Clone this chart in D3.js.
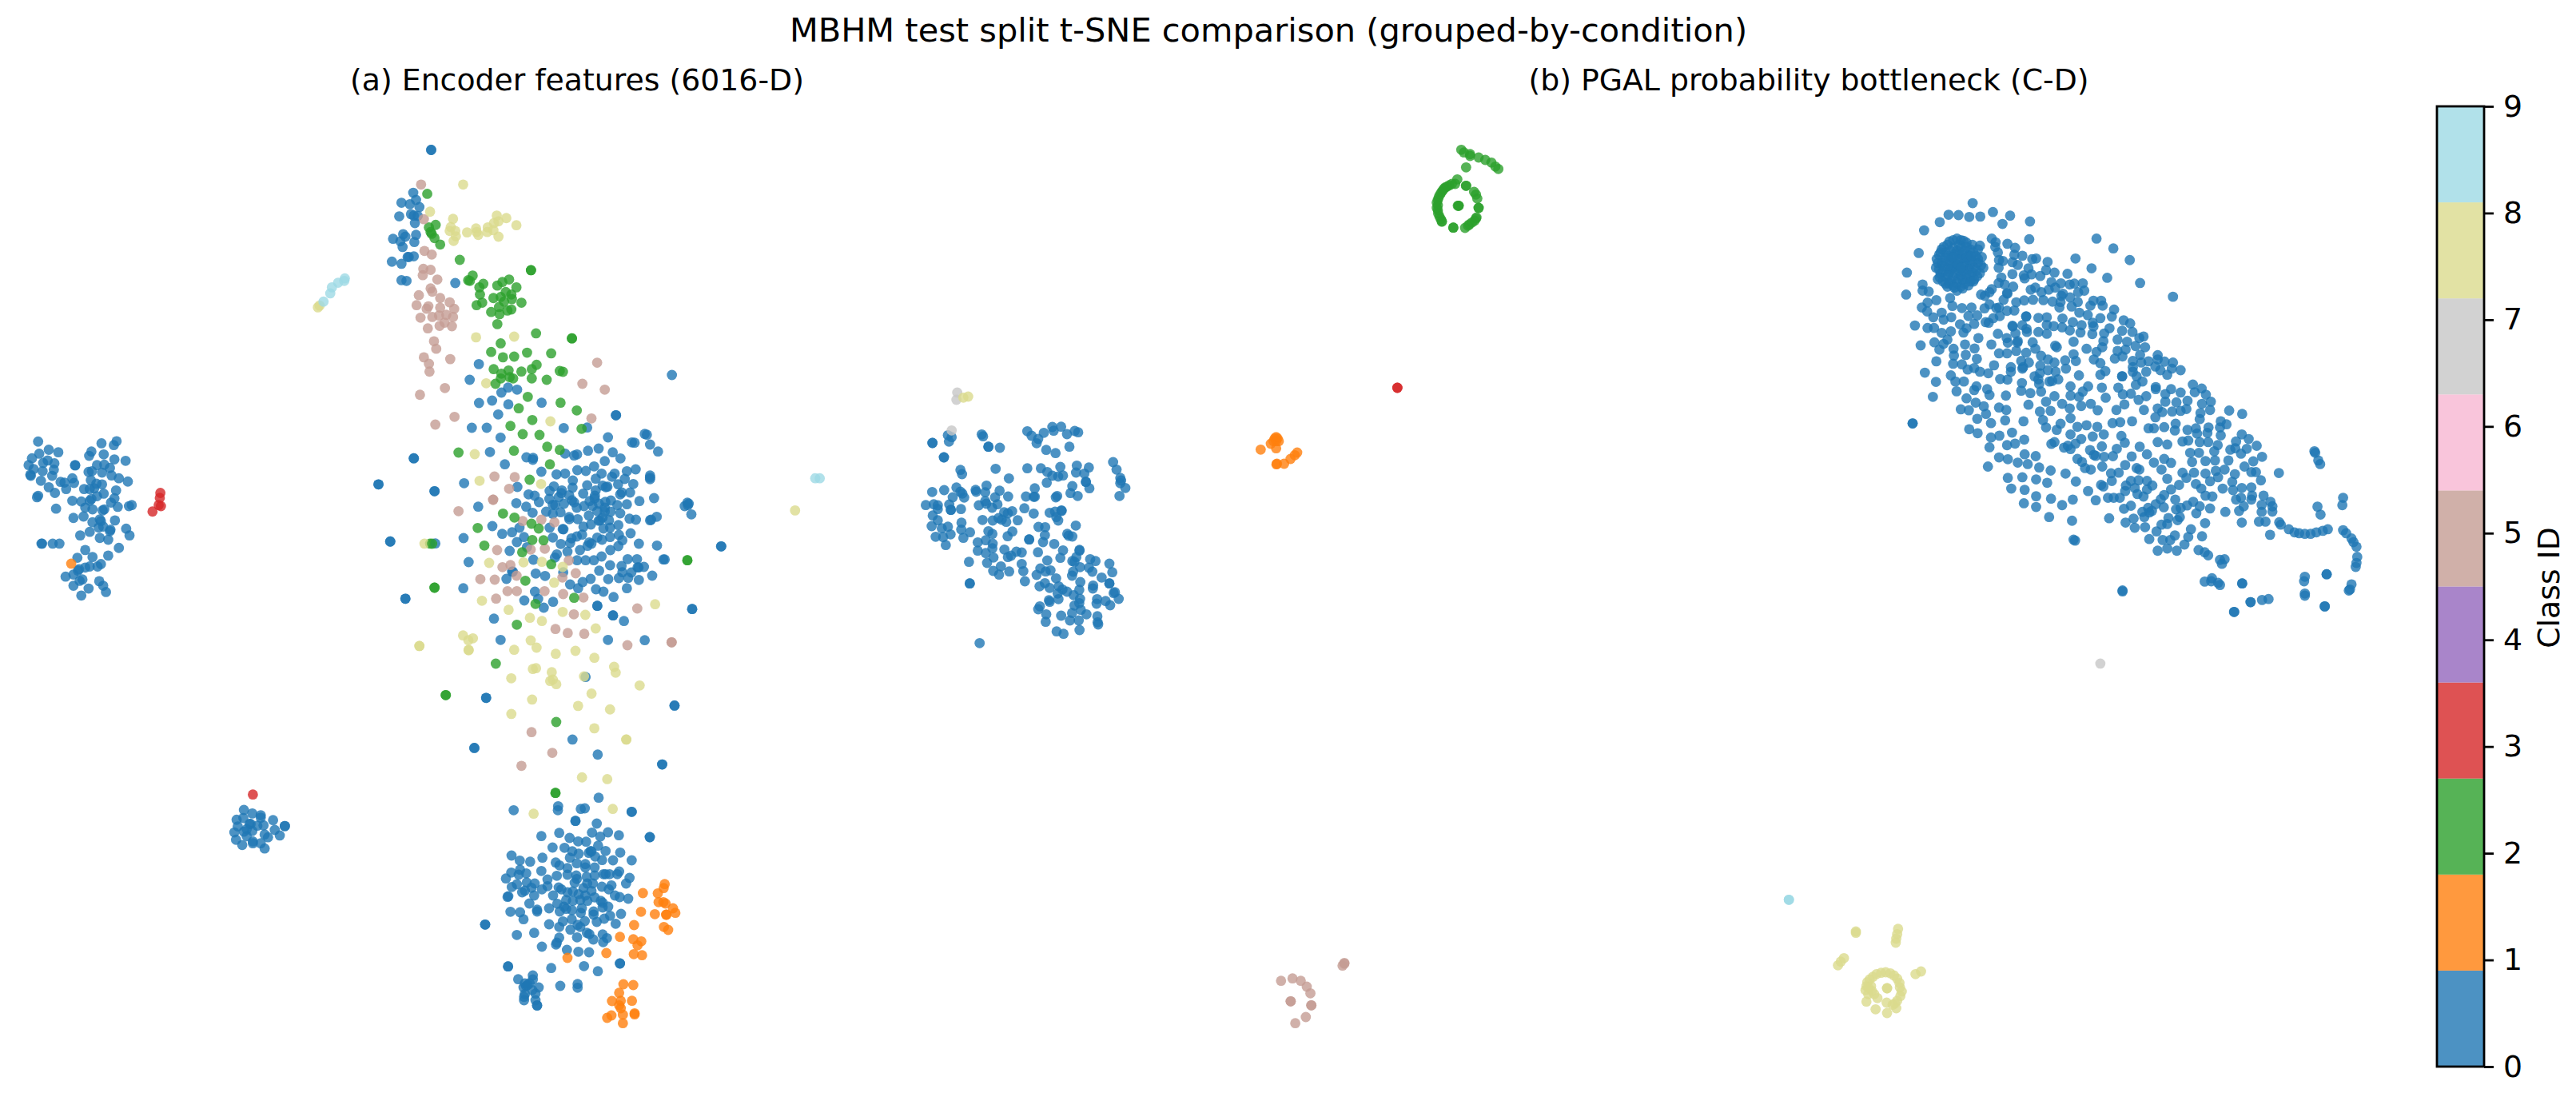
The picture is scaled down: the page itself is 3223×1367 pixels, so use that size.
<!DOCTYPE html>
<head>
  <meta charset="utf-8">
  <style>
    body { margin: 0; background: #fff; }
    svg text { font-family: "DejaVu Sans"; fill: #000; }
  </style>
  <script src="https://cdn.jsdelivr.net/npm/d3@7/dist/d3.min.js"></script>
</head>
<body>
<div id=chart></div>

<script>
const width = 3223, height = 1367

const title = 'MBHM test split t-SNE comparison (grouped-by-condition)'
const panel_titles = ['(a) Encoder features (6016-D)', '(b) PGAL probability bottleneck (C-D)']
const class_ticks = [0, 1, 2, 3, 4, 5, 6, 7, 8, 9]
const class_colors = ['#1f77b4', '#ff7f0e', '#2ca02c', '#d62728', '#9467bd', '#c49c94', '#f7b6d2', '#c7c7c7', '#dbdb8d', '#9edae5']

// encoder embedding, upper left part
const enc_upper_0 = [[68,1237],[87,1260],[104,1267],[70,1271],[57,1284],[85,1290],[51,1303],[77,1297],[97,1298],[60,1314],[76,1320],[96,1316],[54,1330],[55,1333],[93,1333],[73,1347],[87,1365],[108,1350],[115,1352],[132,1353],[118,1370],[98,1381],[68,1389],[66,1393],[134,1303],[134,1304],[129,1340],[159,1277],[163,1265],[181,1242],[203,1247],[208,1236],[185,1273],[204,1287],[224,1291],[173,1303],[186,1302],[196,1311],[158,1322],[164,1320],[182,1324],[199,1332],[212,1340],[228,1349],[162,1345],[150,1370],[160,1370],[168,1368],[172,1355],[182,1357],[207,1374],[185,1383],[173,1390],[204,1396],[160,1403],[129,1403],[145,1405],[163,1398],[198,1408],[100,1425],[152,1422],[165,1427],[186,1427],[210,1420],[230,1418],[235,1415],[131,1451],[149,1447],[165,1463],[180,1460],[205,1458],[176,1478],[197,1484],[225,1481],[231,1500],[143,1500],[160,1490],[178,1507],[193,1512],[74,1523],[75,1523],[94,1523],[106,1523],[196,1488],[184,1475],[178,1455],[183,1430],
  [769,420],[769,420],[737,540],[716,568],[731,572],[742,560],[748,580],[733,600],[712,606],[738,604],[745,605],[740,625],[701,669],[719,656],[723,663],[714,676],[742,658],[739,678],[718,692],[738,718],[727,720],[699,733],[716,739],[716,785],[725,787],[812,793],[729,720],[854,1020],[738,1284],[738,1284],[675,1357],[675,1357],[696,1517],[696,1517]]
const enc_upper_2 = [[762,543],[765,637],[777,630],[768,650],[770,655],[775,667],[785,685],[820,728],[843,772],[835,785],[838,787],[862,795],[855,805],[887,800],[896,790],[908,783],[921,805],[947,757],[947,757],[902,818],[856,825],[880,835],[893,832],[912,825],[899,845],[913,838],[930,848],[850,855],[860,848],[876,874],[891,880],[890,860],[905,870],[912,867],[887,908],[956,934],[1020,948],[1020,948],[893,962],[876,986],[940,988],[983,990],[897,1001],[917,999],[957,1022],[767,1523]]
const enc_upper_3 = [[286,1381],[285,1395],[283,1415],[287,1418],[272,1433]]
const enc_upper_5 = [[751,517],[756,614],[757,703],[770,713],[755,753],[768,756],[754,771],[780,783],[768,808],[771,817],[747,827],[785,835],[802,847],[743,855],[764,858],[761,865],[785,862],[810,865],[750,890],[771,888],[783,884],[796,882],[808,888],[763,920],[784,913],[793,904],[806,914],[774,956],[778,977],[756,1001],[803,1006],[765,1019],[766,1041],[749,1106],[1065,1016]]
const enc_upper_8 = [[826,517],[767,593],[808,613],[886,604],[903,611],[921,631],[804,636],[802,647],[812,647],[833,651],[849,640],[850,650],[853,658],[870,637],[869,650],[881,625],[889,620],[880,645],[813,662],[809,675],[889,663],[849,945],[917,943],[570,856],[567,861],[1418,1430],[757,1523]]
const enc_upper_9 = [[615,780],[603,792],[592,805],[589,822],[614,787],[577,845],[1454,1340],[1462,1340]]

// encoder embedding, lower left part
const enc_lower_0 = [[212,12],[152,18],[193,34],[138,40],[165,38],[180,58],[174,65],[160,65],[152,68],[141,73],[139,77],[131,88],[117,94],[147,102],[142,106],[177,107],[131,120],[184,120],[158,128],[189,138],[145,148],[723,157],[723,157],
  [867,440],[867,440],[1203,462],[1203,462],[846,583],[846,583],[1021,559],[1066,602],[1181,630],[1181,630],
  [435,760],[450,770],[465,775],[465,782],[422,788],[434,783],[487,789],[508,806],[508,806],[445,800],[447,800],[470,804],[459,805],[424,807],[418,824],[435,822],[450,820],[490,817],[472,830],[478,838],[499,833],[421,845],[432,860],[440,835],[451,850],[451,855],[465,855],[472,870],[440,815]]
const enc_lower_1 = [[127,57]]
const enc_lower_2 = [[795,432],[795,432],[992,509]]
const enc_lower_3 = [[451,716]]
const enc_lower_5 = [[948,538],[985,597],[930,634]]
const enc_lower_8 = [[748,292],[748,292],[1055,428],[949,445],[1031,463],[1088,473],[912,486],[1060,527],[1117,559],[1117,559],[1038,667],[1083,672]]

// encoder embedding, central mass
const enc_core_0 = [[143,45],[902,27],[178,132],[227,123],[287,74],[321,82],[262,93],[288,137],[413,131],[692,178],[692,178],[250,175],[151,225],[207,225],[496,226],[584,224],[259,262],[662,261],[800,248],[808,251],[752,280],[762,281],[820,288],[850,314],[219,316],[501,322],[535,329],[546,325],[587,311],[627,303],[680,317],[709,340],[650,350],[356,336],[381,338],[380,345],[275,362],[412,390],[469,400],[501,397],[547,384],[579,387],[610,370],[638,397],[616,416],[687,397],[677,409],[733,388],[766,381],[725,417],[820,404],[820,412],[820,418],[122,433],[322,447],[530,423],[529,450],[459,445],[443,462],[489,460],[487,470],[516,478],[584,441],[642,442],[654,448],[660,446],[700,437],[757,436],[616,460],[569,472],[613,480],[612,490],[708,475],[714,468],[745,468],[11,463],[11,463],[364,475],[387,480],[403,504],[442,492],[477,485],[497,510],[527,497],[535,505],[464,515],[455,514],[593,500],[572,519],[604,518],[628,510],[652,503],[673,498],[697,515],[733,512],[780,500],[835,489],[318,508],[355,521],[379,544],[175,521],[430,540],[455,548],[484,542],[545,525],[622,538],[650,525],[650,540],[672,540],[708,546],[960,506],[965,510],[950,519],[975,550],[962,515],[590,554],[516,560],[517,568],[548,568],[627,574],[632,572],[642,562],[666,572],[743,566],[767,570],[820,572],[824,570],[845,559],[228,594],[330,600],[443,600],[492,605],[495,606],[570,596],[598,588],[645,603],[670,600],[701,590],[265,623],[302,617],[347,635],[455,637],[565,626],[545,633],[525,640],[622,637],[640,645],[670,635],[703,627],[747,621],[120,639],[14,659],[320,654],[520,657],[485,661],[592,655],[600,660],[585,668],[716,647],[701,669],[778,660],[846,667],[1087,670],[1087,670],[358,673],[293,687],[510,690],[557,684],[671,684],[470,700],[463,712],[382,720],[546,722],[578,722],[609,722],[638,708],[736,718],[771,718],[870,719],[875,719],[139,729],[670,741],[713,744],[773,749],[777,749],[797,747],[302,765],[305,765],[391,772],[426,781],[494,767],[629,761],[716,767],[750,768],[703,789],[738,788],[828,780],[281,792],[663,793],[597,792],[778,796],[567,804],[520,813],[550,827],[733,827],[119,827],[617,831],[645,840],[388,840],[683,860],[400,867],[348,873],[456,878],[622,893],[622,893],[978,905],[978,905],[421,900],[681,929],[681,929],[722,950],[234,941],[259,1021],[662,1021],[800,1022],[578,1160]]
const enc_core_2 = [[233,5],[262,22],[289,10],[260,40],[293,35],[306,40],[337,14],[376,5],[376,40],[432,45],[481,12],[493,15],[240,60],[361,109],[484,131],[327,152],[545,160],[378,196],[296,218],[342,249],[405,252],[563,229],[434,296],[481,308],[101,318],[309,311],[444,362],[368,420],[268,547],[311,562],[375,585],[402,603],[173,601],[378,646],[420,647],[198,667],[340,692],[449,737],[352,799],[960,722],[960,722],[2,660],[11,825],[11,825],[535,863],[390,886],[320,964],[241,1110]]
const enc_core_5 = [[50,76],[566,60],[650,82],[600,190],[86,184],[14,213],[236,408],[312,410],[291,454],[231,495],[231,495],[101,538],[342,575],[412,570],[461,580],[372,682],[246,684],[425,679],[515,723],[266,748],[296,740],[319,780],[541,771],[491,787],[183,793],[237,795],[285,838],[320,838],[424,838],[494,849],[570,862],[242,866],[772,903],[534,925],[465,980],[511,995],[573,998],[735,1041],[901,1030],[901,1030]]
const enc_core_8 = [[205,58],[446,201],[162,324],[180,424],[411,436],[216,732],[345,730],[414,728],[492,747],[460,806],[189,874],[289,908],[839,887],[492,916],[577,927],[369,938],[414,950],[616,978],[118,1004],[155,1015],[138,1022],[139,1058],[139,1060],[372,1023],[394,1050],[310,1058],[466,1073],[540,1062],[611,1088],[685,1122],[691,1144],[380,1130],[392,1127],[451,1142],[299,1165],[445,1175],[455,1170],[468,1187],[572,1158],[781,1192]]

// encoder embedding, bottom clusters
const enc_bottom_0 = [[627,53],[308,100],[475,85],[474,100],[560,95],[575,93],[751,106],[751,106],[540,140],[540,140],[620,150],[602,184],[662,183],[703,194],[633,199],[479,185],[412,197],[518,204],[550,217],[580,218],[819,201],[819,201],[625,233],[454,240],[499,241],[528,254],[597,253],[600,255],[653,253],[708,259],[552,263],[519,278],[590,260],[614,274],[300,270],[331,289],[370,293],[416,278],[640,287],[681,288],[751,288],[466,296],[480,307],[545,299],[577,302],[577,315],[612,315],[510,317],[412,328],[332,323],[299,334],[327,342],[355,337],[279,356],[510,342],[470,346],[543,345],[582,350],[612,345],[645,340],[653,340],[668,340],[697,340],[704,330],[743,354],[730,375],[435,360],[545,358],[537,372],[357,371],[320,378],[387,375],[301,388],[375,391],[435,385],[414,397],[584,375],[605,375],[639,387],[675,382],[665,397],[477,390],[487,397],[340,408],[350,402],[385,420],[570,392],[600,403],[456,420],[510,408],[530,405],[552,415],[577,420],[288,423],[285,425],[688,420],[706,426],[738,432],[505,437],[530,440],[558,437],[585,440],[612,427],[635,440],[642,447],[642,465],[663,462],[367,450],[472,451],[441,468],[497,462],[505,470],[527,475],[481,480],[564,468],[560,485],[608,480],[608,492],[396,473],[396,480],[296,481],[332,483],[345,509],[670,496],[648,507],[711,489],[493,517],[526,509],[575,516],[620,519],[441,528],[479,538],[548,530],[558,538],[691,526],[201,529],[201,529],[521,548],[385,560],[320,568],[583,560],[592,565],[642,566],[658,580],[546,577],[607,585],[479,578],[470,597],[467,604],[644,595],[414,612],[508,624],[551,631],[591,633],[287,686],[287,686],[707,675],[707,675],[449,692],[572,685],[624,704],
  [325,734],[380,720],[380,735],[350,750],[355,760],[345,765],[368,750],[402,765],[378,775],[390,788],[350,790],[347,800],[347,813],[390,813],[396,832],[396,833],[483,759],[548,752],[548,766],[360,755]]
const enc_bottom_1 = [[875,377],[871,392],[793,411],[849,412],[852,445],[870,445],[878,450],[906,468],[915,485],[786,481],[838,490],[880,492],[882,492],[760,531],[872,538],[888,549],[707,575],[757,584],[787,592],[773,607],[656,636],[759,640],[790,644],[510,654],[720,753],[757,756],[704,785],[677,816],[710,815],[752,815],[704,832],[710,843],[718,867],[762,862],[762,866],[675,870],[659,879],[718,899]]
const enc_bottom_2 = [[465,35],[465,35]]
const enc_bottom_8 = [[383,113],[680,95]]

// encoder embedding, right cluster
const enc_right_0 = [[258,373],[272,380],[262,397],[385,370],[390,377],[200,402],[200,402],[410,416],[410,416],[453,420],[243,456],[243,456],[556,358],[572,375],[597,387],[591,403],[618,364],[650,342],[655,356],[683,341],[705,369],[734,357],[747,362],[714,416],[627,428],[662,440],[305,503],[311,519],[437,499],[556,497],[607,497],[631,511],[680,492],[650,525],[672,528],[690,524],[742,487],[739,513],[770,517],[787,494],[487,535],[629,551],[776,548],[776,548],[878,474],[891,502],[905,533],[908,543],[905,553],[924,571],[902,601],[199,586],[244,579],[290,569],[305,585],[312,592],[319,607],[276,606],[362,578],[364,585],[403,562],[398,587],[452,581],[435,606],[484,603],[551,603],[580,604],[584,604],[584,572],[663,606],[668,601],[725,564],[718,590],[745,601],[789,572],[175,635],[205,632],[220,636],[220,650],[263,633],[269,653],[269,653],[307,650],[374,636],[398,620],[402,630],[424,645],[444,632],[545,647],[580,667],[640,664],[660,660],[684,655],[685,657],[665,680],[672,693],[201,674],[220,692],[309,701],[388,691],[426,693],[448,684],[469,662],[483,666],[499,658],[460,690],[477,698],[520,692],[197,714],[235,722],[258,716],[308,727],[341,737],[268,745],[212,754],[240,755],[316,758],[250,785],[410,733],[425,743],[500,734],[482,752],[598,717],[623,718],[738,712],[622,748],[706,743],[711,750],[725,753],[563,764],[563,764],[400,767],[370,775],[426,780],[425,797],[615,774],[657,781],[370,806],[400,815],[470,802],[515,810],[535,813],[495,825],[483,830],[596,812],[690,805],[752,803],[752,806],[680,833],[740,830],[725,845],[733,848],[792,838],[812,845],[429,832],[337,848],[405,852],[631,843],[535,856],[864,855],[787,870],[754,868],[800,885],[457,865],[428,882],[541,883],[450,896],[488,884],[605,873],[625,884],[643,880],[591,897],[728,885],[724,900],[875,887],[835,907],[664,910],[547,921],[340,929],[340,929],[622,928],[640,946],[602,940],[755,924],[751,953],[803,937],[802,948],[864,929],[864,929],[674,940],[688,952],[705,960],[670,967],[730,973],[885,962],[880,965],[754,987],[818,988],[816,1005],[850,995],[867,1011],[899,987],[673,988],[637,992],[640,998],[751,1003],[733,1012],[757,1028],[603,1015],[597,1026],[627,1045],[683,1050],[724,1040],[778,1045],[819,1052],[716,1068],[749,1068],[625,1073],[820,1075],[822,1083],[752,1104],[666,1109],[692,1118],[377,1153]]
const enc_right_7 = [[293,213],[290,240],[272,355]]
const enc_right_8 = [[316,232],[334,228]]

// bottleneck embedding, upper middle
const pgal_mid_1 = [[285,1195],[295,1195],[290,1205],[300,1205],[280,1205],[290,1190],[270,1215],[290,1232],[232,1237],[320,1290],[344,1272],[360,1258],[369,1248],[291,1292],[293,1290]]
const pgal_mid_2 = [[985,112],[995,122],[1018,128],[1018,135],[1050,141],[1075,150],[1098,160],[1113,175],[1124,184],[1003,178],[970,223],[962,240],[940,245],[925,253],[915,265],[905,280],[897,300],[897,320],[897,338],[903,362],[912,382],[932,250],[920,258],[910,272],[900,290],[893,310],[893,330],[898,350],[908,372],[1003,247],[1003,247],[1033,270],[1040,280],[1045,295],[975,322],[975,322],[972,322],[1050,330],[1050,330],[1042,366],[1040,370],[1025,385],[1035,378],[1015,392],[1010,397],[999,405],[955,404],[955,404],[912,380],[950,240]]
const pgal_mid_3 = [[745,1005],[745,1005]]

// bottleneck embedding, lower row
const pgal_low_5 = [[230,313],[226,323],[230,316],[92,380],[117,371],[135,380],[148,402],[156,427],[113,457],[113,457],[158,472],[158,472],[146,516],[123,539]]
const pgal_low_8 = [[1345,195],[1345,200],[1437,185],[1435,205],[1433,222],[1432,237],[1319,295],[1312,308],[1306,322],[1487,345],[1475,355],[1413,408],[1413,408],[1370,385],[1382,365],[1400,350],[1420,352],[1435,372],[1441,405],[1442,437],[1435,455],[1366,415],[1385,430],[1392,445],[1412,462],[1368,458],[1388,487],[1413,501],[1433,483],[1430,465],[1372,430],[1378,400],[1375,375],[1390,355],[1410,348],[1428,360],[1440,388],[1445,420],[1368,400],[1380,418],[1372,405],[1425,470]]
const pgal_low_9 = [[1199,76],[1199,76]]

// bottleneck embedding, large class 0 cloud
const pgal_cloud_0 = [[456,89],[509,118],[554,130],[393,127],[419,128],[447,134],[476,133],[606,149],[534,157],[370,151],[329,178],[604,207],[506,205],[516,217],[547,222],[780,205],[824,237],[867,275],[725,270],[767,302],[808,333],[894,350],[980,395],[315,252],[284,316],
  [405,210],[425,210],[440,218],[390,225],[375,240],[368,258],[362,272],[385,250],[405,235],[425,235],[450,240],[465,262],[480,265],[470,285],[484,300],[475,318],[460,338],[445,358],[425,362],[405,358],[385,352],[372,320],[368,305],[390,300],[410,285],[430,270],[450,290],[400,270],[385,280],[420,310],[440,320],[405,330],[430,340],[455,315],[445,260],[420,255],[395,315],[365,338],[390,362],[415,375],[435,295],[405,300],[420,225],[375,285],[460,300],[470,240],[455,225],[435,245],[410,255],[385,330],[450,345],[425,325],
  [395,215],[415,205],[432,212],[380,232],[398,245],[415,245],[440,232],[458,250],[372,250],[392,262],[428,258],[445,275],[470,272],[365,285],[380,295],[400,285],[420,275],[435,285],[455,280],[478,292],[360,300],[378,312],[398,305],[415,295],[445,305],[465,310],[370,332],[392,325],[412,318],[432,310],[450,325],[468,328],[378,345],[398,345],[418,338],[440,335],[458,345],[395,352],[415,350],[435,352],[408,365],[430,368],[440,265],[405,265],[385,268],[418,290],[452,262],[425,300],
  [325,355],[325,375],[341,378],[282,388],[305,489],[397,399],[361,406],[338,414],[323,430],[337,443],[353,462],[375,447],[380,470],[400,462],[403,425],[428,432],[453,430],[445,458],[468,456],[423,485],[440,498],[460,484],[432,512],[338,497],[355,497],[375,513],[399,508],[320,554],[356,544],[380,549],[390,535],[369,568],[406,565],[436,551],[461,564],[471,530],[505,551],[407,587],[438,585],[361,606],[467,598],[405,614],[428,616],[443,633],[460,628],[475,640],[497,645],[512,619],[331,643],[399,652],[360,673],[411,672],[433,672],[466,688],[460,700],[494,697],[500,716],[414,704],[352,722],[440,727],[464,741],[485,753],[425,763],[446,766],[491,778],[468,794],[525,757],[544,765],[543,718],[504,808],[541,799],[589,802],[447,828],[469,841],[504,855],[526,849],[559,839],[546,880],[567,875],[591,862],[500,887],[525,920],[548,926],[574,937],[600,942],[592,910],[621,916],[496,950],[630,953],[660,963],[699,973],[548,987],[586,985],[622,992],[651,1003],[726,999],[557,1022],[592,1026],[622,1047],[661,1055],[718,1058],[590,1070],[622,1082],[690,1076],[656,1115],[716,1127],[720,1189],[724,1192],[299,809],[299,809],
  [475,228],[515,232],[522,250],[567,235],[565,258],[586,261],[612,272],[622,270],[652,281],[525,275],[535,278],[560,282],[574,291],[524,300],[602,302],[648,308],[670,316],[704,320],[610,322],[590,325],[592,335],[560,321],[633,327],[531,332],[524,350],[540,355],[562,362],[506,370],[500,380],[478,388],[488,392],[546,383],[547,385],[608,372],[620,365],[636,380],[655,372],[662,347],[672,365],[687,351],[710,355],[722,352],[744,351],[748,375],[692,385],[688,392],[711,397],[732,380],[665,411],[686,412],[641,406],[614,405],[591,407],[570,413],[537,405],[565,440],[546,441],[500,420],[518,432],[487,433],[525,430],[490,478],[510,465],[527,458],[596,459],[596,460],[628,464],[650,462],[691,466],[683,430],[715,427],[731,412],[735,447],[757,455],[772,408],[792,408],[764,424],[796,424],[826,437],[790,465],[820,460],[851,472],[868,482],[770,480],[772,492],[718,478],[741,488],[650,487],[668,491],[690,495],[710,505],[738,512],[560,490],[561,492],[586,488],[597,500],[598,510],[628,510],[650,516],[498,480],[522,516],[545,530],[568,515],[548,545],[574,540],[573,545],[613,544],[672,555],[676,560],[720,542],[754,565],[769,517],[800,515],[814,498],[847,506],[874,510],[903,525],[892,530],[798,540],[835,535],[860,542],[795,560],[780,575],[835,572],[856,568],[882,556],[907,560],[894,585],[940,586],[525,580],[546,580],[570,572],[620,565],[596,578],[583,605],[603,610],[635,588],[653,600],[633,620],[670,610],[698,603],[720,583],[726,605],[773,600],[790,612],[828,597],[848,590],[875,605],[897,610],[916,606],[940,600],[958,607],[980,610],[934,623],[588,625],[586,630],[556,625],[556,640],[528,664],[547,666],[618,655],[632,645],[653,635],[673,640],[700,630],[734,652],[803,638],[790,650],[847,655],[847,655],[875,625],[875,640],[885,655],[910,640],[947,635],[965,650],[977,630],[1000,635],[883,683],[900,672],[585,677],[583,702],[628,665],[630,680],[657,672],[680,665],[664,670],[712,688],[758,688],[794,692],[837,692],[870,712],[849,714],[804,725],[744,705],[712,718],[734,722],[607,710],[602,748],[635,705],[648,738],[670,720],[690,745],[710,760],[740,752],[765,745],[783,766],[832,765],[853,747],[890,732],[910,720],[904,765],[935,690],[935,697],[960,713],[975,697],[1000,708],[1018,735],[989,740],[960,738],[940,760],[952,772],[978,770],[1000,768],[1015,762],[1032,682],[1055,695],[1066,715],[1037,707],[1056,745],[1079,738],[1077,765],[1052,775],[1050,795],[934,789],[632,770],[660,768],[640,798],[648,822],[686,810],[676,830],[712,792],[712,845],[730,820],[754,815],[782,820],[822,808],[842,805],[873,802],[916,825],[930,825],[957,821],[987,810],[985,832],[1018,830],[1040,825],[1073,822],[1043,842],[1070,840],[799,845],[845,850],[854,872],[770,852],[740,860],[725,875],[670,870],[662,876],[695,888],[712,893],[705,882],[763,896],[794,884],[833,892],[893,885],[912,910],[940,870],[965,878],[1005,868],[1020,865],[1050,870],[1072,870],[1097,880],[1088,900],[1048,905],[1025,905],[1030,935],[1065,932],[1090,930],[1105,848],[1105,802],[1120,812],[1103,822],[1127,767],[1161,778],[1160,845],[1145,868],[1178,860],[1199,882],[1143,890],[1173,892],[1130,895],[1158,908],[1213,918],[1125,930],[1190,933],[1167,950],[1257,971],[730,925],[742,935],[778,915],[765,960],[750,955],[795,950],[773,912],[800,918],[823,916],[872,917],[855,945],[885,955],[892,960],[930,937],[957,925],[975,938],[950,960],[818,972],[838,970],[1005,970],[1035,970],[1065,973],[1092,964],[1098,985],[1115,960],[1142,975],[1185,968],[1197,968],[1015,987],[965,990],[820,997],[792,1010],[798,1015],[857,1012],[870,997],[890,995],[912,997],[926,1012],[912,1025],[880,1020],[855,1030],[887,1040],[903,1048],[996,1010],[975,1025],[1040,1007],[1054,1022],[1077,998],[1110,1022],[1135,1000],[1160,1020],[1210,995],[1137,1027],[1185,1018],[758,1030],[778,1060],[810,1052],[825,1052],[841,1052],[957,1043],[948,1057],[986,1058],[935,1073],[915,1085],[870,1078],[852,1088],[1065,1045],[1083,1048],[1033,1065],[1017,1077],[1050,1080],[1077,1087],[1145,1058],[1158,1052],[1187,1045],[1185,1058],[1165,1080],[1153,1095],[1217,1045],[1235,1065],[1212,1075],[1240,1080],[1240,1097],[1212,1098],[1117,1098],[1041,1103],[1000,1085],[988,1090],[956,1083],[900,1098],[918,1100],[925,1095],[813,1119],[856,1133],[877,1120],[905,1115],[968,1118],[992,1125],[998,1115],[1064,1135],[1160,1133],[1205,1130],[1222,1130],[1234,1173],[950,1140],[965,1138],[880,1150],[907,1148],[937,1162],[1027,1155],[985,1175],[973,1190],[918,1187],[953,1190],[1020,1180],[1056,1178],[1010,1205],[940,1225],[965,1218],[990,1225],
  [1047,1223],[1063,1230],[1072,1240],[1103,1255],[1115,1253],[1108,1268],[1082,1315],[1063,1326],[1080,1325],[1098,1330],[1103,1337],[1161,1332],[1161,1332],[848,1355],[848,1358],[1140,1425],[1140,1425],[1183,1393],[1183,1393],[1213,1386],[1230,1383],[1325,1310],[1323,1325],[1325,1365],[1325,1372],[1382,1302],[1382,1302],[1377,1407],[1377,1407],[1447,1335],[1443,1352],[1440,1355],
  [1258,1132],[1262,1140],[1283,1155],[1298,1165],[1310,1168],[1325,1170],[1340,1170],[1355,1165],[1372,1160],[1385,1155],[1425,1158],[1433,1168],[1447,1185],[1452,1197],[1460,1212],[1462,1245],[1460,1265],[1458,1278],
  [1350,900],[1352,905],[1360,930],[1365,942],[1425,1052],[1423,1076],[1358,1081],[1366,1107]]
const pgal_cloud_7 = [[790,1594]]

// each block of readings has its own frame, mapped onto the page by linear scales
const frame = (dom_x, rng_x, dom_y, rng_y) => ({
  x: d3.scaleLinear().domain([0, dom_x]).range(rng_x),
  y: d3.scaleLinear().domain([0, dom_y]).range(rng_y),
})
const enc_upper = frame(1568, [0, 1100], 1568, [0, 700])
const enc_lower = frame(1568, [0, 1100], 1568, [680, 1367])
const enc_core = frame(1200, [540, 940], 1200, [460, 860])
const enc_bottom = frame(1200, [540, 940], 960, [980, 1300])
const enc_right = frame(1200, [1100, 1500], 1260, [420, 840])
const pgal_mid = frame(1200, [1500, 1900], 1440, [150, 630])
const pgal_low = frame(1568, [1550, 2450], 660, [1100, 1320])
const pgal_cloud = frame(1568, [2250, 3000], 1568, [220, 820])

const layers = [
  [enc_upper_0, 0, enc_upper], [enc_upper_2, 2, enc_upper], [enc_upper_3, 3, enc_upper],
  [enc_upper_5, 5, enc_upper], [enc_upper_8, 8, enc_upper], [enc_upper_9, 9, enc_upper],
  [enc_lower_0, 0, enc_lower], [enc_lower_1, 1, enc_lower], [enc_lower_2, 2, enc_lower],
  [enc_lower_3, 3, enc_lower], [enc_lower_5, 5, enc_lower], [enc_lower_8, 8, enc_lower],
  [enc_core_0, 0, enc_core], [enc_core_5, 5, enc_core], [enc_core_8, 8, enc_core], [enc_core_2, 2, enc_core],
  [enc_bottom_0, 0, enc_bottom], [enc_bottom_1, 1, enc_bottom], [enc_bottom_2, 2, enc_bottom], [enc_bottom_8, 8, enc_bottom],
  [enc_right_0, 0, enc_right], [enc_right_7, 7, enc_right], [enc_right_8, 8, enc_right],
  [pgal_mid_1, 1, pgal_mid], [pgal_mid_2, 2, pgal_mid], [pgal_mid_3, 3, pgal_mid],
  [pgal_low_5, 5, pgal_low], [pgal_low_8, 8, pgal_low], [pgal_low_9, 9, pgal_low],
  [pgal_cloud_0, 0, pgal_cloud], [pgal_cloud_7, 7, pgal_cloud],
]

const svg = d3.select('#chart').append('svg')
  .attr('width', width)
  .attr('height', height)
  .attr('viewBox', [0, 0, width, height])
  .style('display', 'block')

svg.append('g').selectAll('g').data(layers).join('g')
  .attr('fill', d => class_colors[d[1]])
  .attr('fill-opacity', .8)
  .each(function ([points, , view]) {
    d3.select(this).selectAll('circle').data(points).join('circle')
      .attr('cx', p => view.x(p[0]))
      .attr('cy', p => view.y(p[1]))
      .attr('r', 6.4)
  })

// titles
svg.append('text').text(title)
  .attr('x', 1587).attr('y', 37).attr('dy', '.36em')
  .attr('text-anchor', 'middle').style('font-size', '41.5px')
svg.selectAll('.panel-title').data(panel_titles).join('text')
  .attr('class', 'panel-title')
  .text(d => d)
  .attr('x', (d, i) => [722, 2263][i]).attr('y', 99).attr('dy', '.36em')
  .attr('text-anchor', 'middle').style('font-size', '37.8px')

// colorbar
const bar_x = d3.scaleLinear().domain([0, 1]).range([3049, 3108])
const bar_y = d3.scaleLinear().domain([0, 9]).range([1334, 133])
const bar_step = 9 / class_colors.length
const bar = svg.append('g')
bar.selectAll('rect').data(class_colors).join('rect')
  .attr('x', bar_x(0))
  .attr('width', bar_x(1) - bar_x(0))
  .attr('y', (d, i) => bar_y((i + 1) * bar_step))
  .attr('height', (d, i) => bar_y(i * bar_step) - bar_y((i + 1) * bar_step))
  .attr('fill', d => d)
  .attr('fill-opacity', .8)
bar.append('rect')
  .attr('x', bar_x(0)).attr('y', bar_y(9))
  .attr('width', bar_x(1) - bar_x(0)).attr('height', bar_y(0) - bar_y(9))
  .attr('fill', 'none').attr('stroke', '#000').attr('stroke-width', 2.8)

const bar_axis = svg.append('g')
  .attr('transform', `translate(${bar_x(1)},0)`)
  .call(d3.axisRight(bar_y).tickValues(class_ticks).tickSize(12).tickPadding(12).tickFormat(d3.format('d')))
bar_axis.select('.domain').remove()
bar_axis.selectAll('line').attr('stroke', '#000').attr('stroke-width', 2.8)
bar_axis.selectAll('text').style('font-size', '37.8px')
bar_axis.attr('font-family', null)

svg.append('text').text('Class ID')
  .attr('transform', 'translate(3188,735) rotate(-90)')
  .attr('dy', '.36em')
  .attr('text-anchor', 'middle').style('font-size', '37.8px')
</script>
</body>
